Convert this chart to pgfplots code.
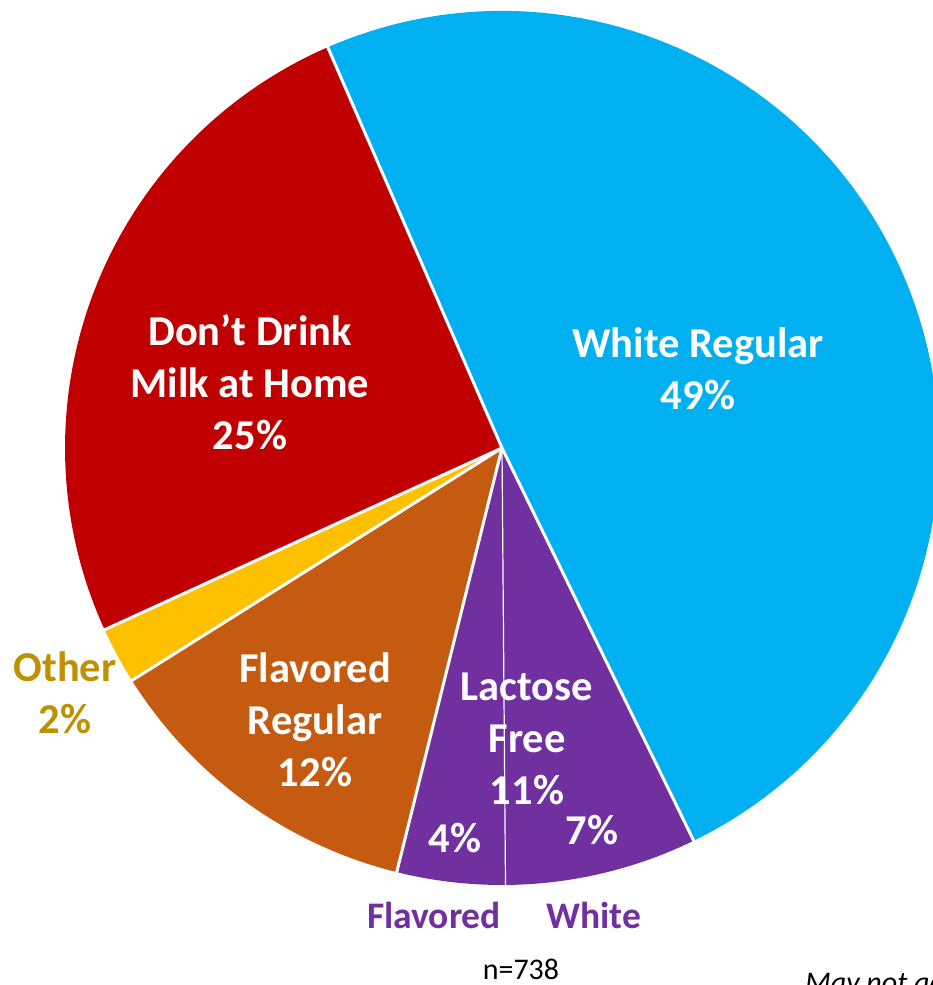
\documentclass[border=0pt]{standalone}
\usepackage{pgfplots}
\usepackage{pgfplotstable}
\pgfplotsset{compat=1.18}
\usepackage{fontspec}
\setmainfont{Carlito}
\definecolor{cWR}{HTML}{00B0F0}
\definecolor{cDD}{HTML}{C00000}
\definecolor{cOT}{HTML}{FFC000}
\definecolor{cFR}{HTML}{C55A11}
\definecolor{cLF}{HTML}{7030A0}
\definecolor{cGold}{HTML}{BF9000}
% slices clockwise from the top-left boundary; sepw = width of the boundary line at the slice start
\pgfplotstableread{
pct  col  sepw
49.3 cWR  3
7.1  cLF  3
4.0  cLF  1.2
12.2 cFR  3
2.1  cOT  3
25.3 cDD  3
}\slices
\begin{document}
\begin{tikzpicture}
\begin{axis}[at={(0,0)},anchor=south west,scale only axis,
  width=933bp,height=985bp,xmin=0,xmax=933,ymin=0,ymax=985,
  axis lines=none,clip=true]
\pgfmathsetmacro{\angA}{113.5}
\pgfplotsforeachungrouped \i in {0,...,5}{%
  \pgfplotstablegetelem{\i}{pct}\of\slices \let\p\pgfplotsretval
  \pgfplotstablegetelem{\i}{col}\of\slices \let\c\pgfplotsretval
  \pgfmathsetmacro{\angB}{\angA-3.6*\p}
  \pgfmathsetmacro{\xs}{502+437*cos(\angA)}
  \pgfmathsetmacro{\ys}{537+437*sin(\angA)}
  \edef\temp{\noexpand\fill[\c] (axis cs:502,537) -- (axis cs:\xs,\ys) arc[start angle=\angA, end angle=\angB, radius=437bp] -- cycle;}
  \temp
  \global\let\angA\angB
}
\pgfmathsetmacro{\angA}{113.5}
\pgfplotsforeachungrouped \i in {0,...,5}{%
  \pgfplotstablegetelem{\i}{pct}\of\slices \let\p\pgfplotsretval
  \pgfplotstablegetelem{\i}{sepw}\of\slices \let\w\pgfplotsretval
  \pgfmathsetmacro{\xs}{502+440*cos(\angA)}
  \pgfmathsetmacro{\ys}{537+440*sin(\angA)}
  \edef\temp{\noexpand\draw[white,line width=\w bp] (axis cs:502,537) -- (axis cs:\xs,\ys);}
  \temp
  \pgfmathsetmacro{\angB}{\angA-3.6*\p}
  \global\let\angA\angB
}
\tikzset{lab/.style={font=\bfseries\fontsize{42.5bp}{52bp}\selectfont,align=center,text=white,inner sep=0pt},
  sub/.style={font=\bfseries\fontsize{37.5bp}{45bp}\selectfont,text=cLF,inner sep=0pt}}
\node[lab] at (axis cs:698,616.5) {White Regular\\49\%};
\node[lab] at (axis cs:250,603) {Don’t Drink\\Milk at Home\\25\%};
\node[lab,text=cGold] at (axis cs:65,292.5) {Other\\2\%};
\node[lab] at (axis cs:315,265.5) {Flavored\\Regular\\12\%};
\node[lab] at (axis cs:527,246) {Lactose\\Free\\11\%};
\node[lab] at (axis cs:455,147) {4\%};
\node[lab] at (axis cs:592,155) {7\%};
\node[sub] at (axis cs:434,70) {Flavored};
\node[sub] at (axis cs:594,70) {White};
\node[inner sep=0pt,anchor=base,font=\fontsize{30bp}{34bp}\selectfont] at (axis cs:521,6) {n=738};
\node[inner sep=0pt,anchor=base west,font=\itshape\fontsize{30bp}{34bp}\selectfont] at (axis cs:805,-7) {May not add to 100\%};
\end{axis}
\pgfresetboundingbox
\useasboundingbox (0,0) rectangle (933bp,985bp);
\end{tikzpicture}
\end{document}
